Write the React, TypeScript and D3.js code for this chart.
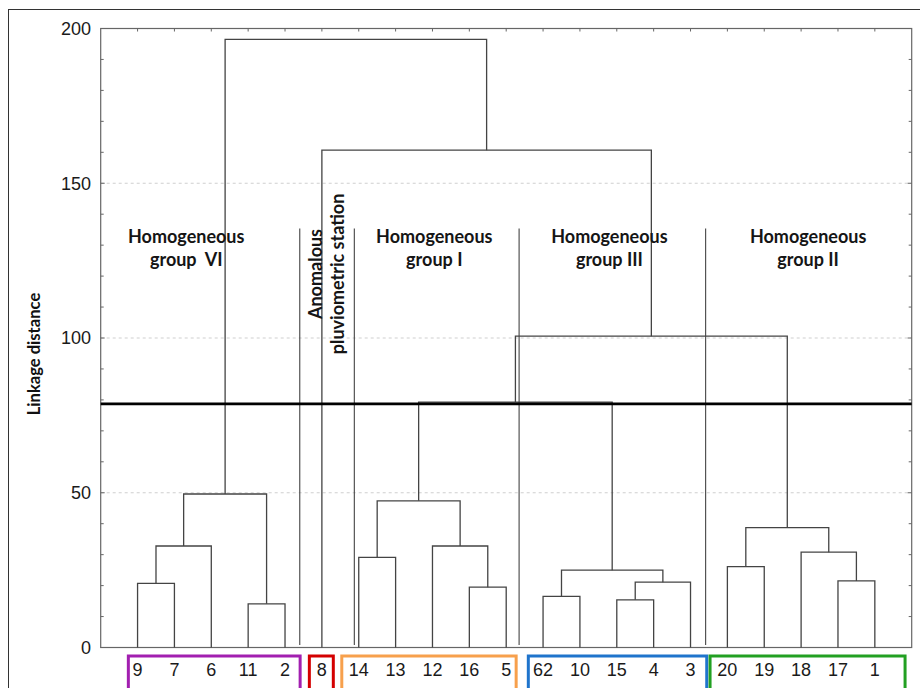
import { useRef, useEffect } from 'react';
import * as d3 from 'd3';

// Leaf order along the bottom axis
const leaves = ['9', '7', '6', '11', '2', '8', '14', '13', '12', '16', '5', '62', '10', '15', '4', '3', '20', '19', '18', '17', '1'];

// Linkage list: [node id, left child, right child, linkage distance]
const merges: [string, string, string, number][] = [
  ['a', '9', '7', 20.7],
  ['b', 'a', '6', 32.8],
  ['c', '11', '2', 14.1],
  ['VI', 'b', 'c', 49.6],
  ['d', '14', '13', 29.1],
  ['e', '16', '5', 19.5],
  ['f', '12', 'e', 32.8],
  ['I', 'd', 'f', 47.4],
  ['g', '62', '10', 16.5],
  ['h', '15', '4', 15.4],
  ['i', 'h', '3', 21.1],
  ['III', 'g', 'i', 25.0],
  ['j', '20', '19', 26.1],
  ['k', '17', '1', 21.5],
  ['l', '18', 'k', 30.8],
  ['II', 'j', 'l', 38.7],
  ['m', 'I', 'III', 79.3],
  ['n', 'm', 'II', 100.6],
  ['o', '8', 'n', 160.7],
  ['root', 'VI', 'o', 196.5],
];

const cutDistance = 78.7;
const dividerTop = 135.4;
const yTicks = [0, 50, 100, 150, 200];

// Group annotations (positions in leaf units, leaves sit at 1..21)
const groupLines = [['Homogeneous', 'group  VI'], ['Homogeneous', 'group I'], ['Homogeneous', 'group III'], ['Homogeneous', 'group II']];
const groupLabelAt = [2.32, 9.05, 13.8, 19.19];
const anomalousLines = ['Anomalous', 'pluviometric station'];
const dividerAt = [5.4, 6.88, 11.35, 16.41];

const boxColors = ['#a21fb0', '#d40000', '#f7a04c', '#1f74cc', '#22a022'];
const boxFrom = [0.75, 5.66, 6.54, 11.6, 16.53];
const boxTo = [5.41, 6.31, 11.27, 16.44, 21.82];

const W = 920;
const H = 688;
const LEFT = 100.7;
const RIGHT = 911.7;
const TOP = 28.5;
const BOTTOM = 647.5;
const LINE = '#444';
const FRAME = '#666';
const NUM_FONT = 'Arial, "Liberation Sans", sans-serif';
const LABEL_FONT = 'Lato, "Open Sans", sans-serif';

export default function App() {
  const svgRef = useRef<SVGSVGElement>(null);

  useEffect(() => {
    if (!svgRef.current) return;
    const svg = d3.select(svgRef.current);
    svg.selectAll('*').remove();

    const x = d3.scaleLinear().domain([0, leaves.length + 1]).range([LEFT, RIGHT]);
    const y = d3.scaleLinear().domain([0, 200]).range([BOTTOM, TOP]);

    // node positions
    const pos = new Map<string, { x: number; h: number }>();
    leaves.forEach((l, i) => pos.set(l, { x: x(i + 1), h: 0 }));
    merges.forEach(([id, a, b, h]) => {
      const pa = pos.get(a)!;
      const pb = pos.get(b)!;
      pos.set(id, { x: (pa.x + pb.x) / 2, h });
    });

    // outer frame
    svg.append('rect')
      .attr('x', 8.5).attr('y', 9.5)
      .attr('width', W).attr('height', H)
      .attr('fill', 'none').attr('stroke', '#333').attr('stroke-width', 1);

    // gridlines
    svg.append('g').selectAll('line')
      .data([50, 100, 150])
      .join('line')
      .attr('x1', LEFT).attr('x2', RIGHT)
      .attr('y1', d => y(d)).attr('y2', d => y(d))
      .attr('stroke', '#cfcfcf').attr('stroke-width', 1)
      .attr('stroke-dasharray', '3,3');

    // plot frame
    svg.append('rect')
      .attr('x', LEFT).attr('y', TOP)
      .attr('width', RIGHT - LEFT).attr('height', BOTTOM - TOP)
      .attr('fill', 'none').attr('stroke', FRAME).attr('stroke-width', 1.2);

    // ticks: every 10 on left and right, leaves on top
    const minor = d3.range(0, 201, 10);
    svg.append('g').selectAll('line')
      .data(minor)
      .join('line')
      .attr('x1', LEFT).attr('x2', d => LEFT + (d % 50 === 0 ? 4 : 3))
      .attr('y1', d => y(d)).attr('y2', d => y(d))
      .attr('stroke', FRAME).attr('stroke-width', 1);
    svg.append('g').selectAll('line')
      .data(minor)
      .join('line')
      .attr('x1', RIGHT).attr('x2', d => RIGHT - (d % 50 === 0 ? 4 : 3))
      .attr('y1', d => y(d)).attr('y2', d => y(d))
      .attr('stroke', FRAME).attr('stroke-width', 1);
    svg.append('g').selectAll('line')
      .data(leaves)
      .join('line')
      .attr('x1', (_, i) => x(i + 1)).attr('x2', (_, i) => x(i + 1))
      .attr('y1', TOP).attr('y2', TOP + 3)
      .attr('stroke', FRAME).attr('stroke-width', 1);

    // y tick labels
    svg.append('g').selectAll('text')
      .data(yTicks)
      .join('text')
      .attr('x', 91).attr('y', d => y(d))
      .attr('dy', '0.36em')
      .attr('text-anchor', 'end')
      .attr('font-family', NUM_FONT).attr('font-size', 18)
      .attr('fill', '#1a1a1a')
      .text(d => d);

    // y axis title
    svg.append('text')
      .attr('transform', `translate(40, 354) rotate(-90)`)
      .attr('text-anchor', 'middle')
      .attr('font-family', LABEL_FONT).attr('font-weight', 700).attr('font-size', 16.6)
      .attr('fill', '#111')
      .text('Linkage distance');

    // dendrogram links
    svg.append('g').selectAll('path')
      .data(merges)
      .join('path')
      .attr('d', ([, a, b, h]) => {
        const pa = pos.get(a)!;
        const pb = pos.get(b)!;
        return `M${pa.x},${y(pa.h)}V${y(h)}H${pb.x}V${y(pb.h)}`;
      })
      .attr('fill', 'none').attr('stroke', LINE).attr('stroke-width', 1.3);

    // group dividers
    svg.append('g').selectAll('line')
      .data(dividerAt)
      .join('line')
      .attr('x1', d => x(d)).attr('x2', d => x(d))
      .attr('y1', y(dividerTop)).attr('y2', y(0.8))
      .attr('stroke', LINE).attr('stroke-width', 1.1);

    // cut line
    svg.append('line')
      .attr('x1', LEFT).attr('x2', RIGHT)
      .attr('y1', y(cutDistance)).attr('y2', y(cutDistance))
      .attr('stroke', '#000').attr('stroke-width', 2.6);

    // group labels
    const gl = svg.append('g')
      .attr('font-family', LABEL_FONT).attr('font-weight', 700).attr('font-size', 18)
      .attr('fill', '#151515').attr('text-anchor', 'middle');
    groupLines.forEach((lines, gi) => {
      lines.forEach((t, li) => {
        gl.append('text')
          .attr('x', x(groupLabelAt[gi]))
          .attr('y', 243 + li * 23)
          .style('white-space', 'pre')
          .text(t);
      });
    });

    // anomalous station label (vertical)
    anomalousLines.forEach((t, li) => {
      gl.append('text')
        .attr('transform', `translate(${322 + li * 22}, 274) rotate(-90)`)
        .text(t);
    });

    // leaf labels
    svg.append('g').selectAll('text')
      .data(leaves)
      .join('text')
      .attr('x', (_, i) => x(i + 1)).attr('y', 676)
      .attr('text-anchor', 'middle')
      .attr('font-family', NUM_FONT).attr('font-size', 18)
      .attr('fill', '#1a1a1a')
      .text(d => d);

    // coloured group boxes
    svg.append('g').selectAll('rect')
      .data(boxColors)
      .join('rect')
      .attr('x', (_, i) => x(boxFrom[i]))
      .attr('y', 656)
      .attr('width', (_, i) => x(boxTo[i]) - x(boxFrom[i]))
      .attr('height', 60)
      .attr('fill', 'none')
      .attr('stroke', d => d)
      .attr('stroke-width', 3);
  }, []);

  return (
    <svg
      ref={svgRef}
      width={W}
      height={H}
      style={{ position: 'absolute', left: 0, top: 0, background: '#fff' }}
    />
  );
}
